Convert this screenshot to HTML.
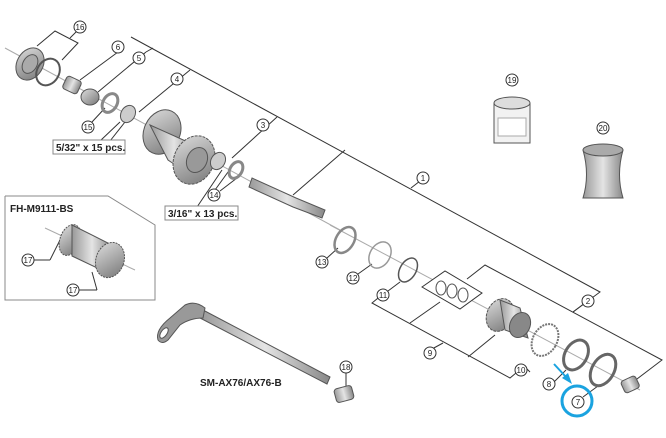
<!DOCTYPE html>
<html><head><style>body{margin:0;background:#fff}svg{display:block}text{font-family:"Liberation Sans",sans-serif}</style></head><body>
<svg width="666" height="438" viewBox="0 0 666 438" xmlns="http://www.w3.org/2000/svg">
<defs>
<linearGradient id="g" x1="0" y1="0" x2="1" y2="1"><stop offset="0" stop-color="#ddd"/><stop offset="1" stop-color="#777"/></linearGradient>
<linearGradient id="g2" x1="0" x2="1"><stop offset="0" stop-color="#999"/><stop offset=".5" stop-color="#e4e4e4"/><stop offset="1" stop-color="#888"/></linearGradient>
</defs>
<g stroke="#333" stroke-width="1" fill="none">
<line x1="5" y1="48" x2="340" y2="230" stroke="#aaa"/>
<line x1="330" y1="225" x2="640" y2="390" stroke="#aaa"/>
<polyline points="37,46 55,31 78,43 62,60"/><line x1="70" y1="38" x2="76" y2="32"/>
<polyline points="80,80 118,52"/><polyline points="98,92 146,52"/><polyline points="139,112 190,70"/>
<polyline points="131,37 600,292 573,312"/>
<line x1="153" y1="48" x2="146" y2="52"/>
<line x1="232" y1="158" x2="277" y2="117"/>
<line x1="293" y1="195" x2="345" y2="150"/>
<line x1="411" y1="188" x2="420" y2="181"/>
<line x1="228" y1="172" x2="215" y2="190"/><line x1="222" y1="170" x2="195" y2="210"/>
<line x1="125" y1="122" x2="110" y2="141"/><line x1="120" y1="122" x2="100" y2="141"/>
<line x1="105" y1="108" x2="92" y2="122"/>
<line x1="237" y1="178" x2="220" y2="191"/>
<line x1="338" y1="248" x2="327" y2="258"/>
<line x1="372" y1="264" x2="358" y2="274"/>
<line x1="400" y1="282" x2="388" y2="291"/>
<!-- 9 bracket -->
<polyline points="383,294 372,303 510,378 522,368"/>
<line x1="410" y1="323" x2="440" y2="302"/>
<line x1="468" y1="357" x2="495" y2="335"/>
<line x1="432" y1="349" x2="443" y2="343"/>
<!-- 2 bracket -->
<polyline points="467,279 485,265 662,360 633,382"/>
<line x1="573" y1="312" x2="585" y2="303"/>
<line x1="525" y1="367" x2="530" y2="372"/>
<line x1="554" y1="382" x2="566" y2="370"/>
<line x1="583" y1="397" x2="598" y2="386"/>
<line x1="346" y1="373" x2="346" y2="387"/>
<line x1="34" y1="260" x2="50" y2="260"/><line x1="79" y1="290" x2="97" y2="290"/>
<line x1="50" y1="260" x2="60" y2="240"/><line x1="97" y1="290" x2="92" y2="272"/>
</g>
<g stroke="#555" stroke-width="1">
<ellipse cx="30" cy="64" rx="13" ry="17" transform="rotate(30 30 64)" fill="url(#g)"/>
<ellipse cx="30" cy="64" rx="7" ry="10" transform="rotate(30 30 64)" fill="#aaa"/>
<ellipse cx="48" cy="72" rx="11" ry="14" transform="rotate(30 48 72)" fill="none" stroke-width="2"/>
<rect x="64" y="78" width="16" height="14" rx="3" transform="rotate(25 72 85)" fill="url(#g2)"/>
<ellipse cx="90" cy="97" rx="9" ry="8" fill="url(#g)"/>
<ellipse cx="110" cy="103" rx="7" ry="10" transform="rotate(30 110 103)" fill="none" stroke-width="3" stroke="#888"/>
<ellipse cx="128" cy="114" rx="7" ry="9" transform="rotate(30 128 114)" fill="#ccc"/>
<ellipse cx="162" cy="132" rx="18" ry="23" transform="rotate(25 162 132)" fill="url(#g)"/>
<path d="M150,125 L190,143 L198,180 L168,160 Z" fill="url(#g2)"/>
<ellipse cx="194" cy="160" rx="20" ry="25" transform="rotate(25 194 160)" fill="url(#g)" stroke-dasharray="3 1"/>
<ellipse cx="197" cy="160" rx="10" ry="13" transform="rotate(25 197 160)" fill="#999"/>
<ellipse cx="218" cy="161" rx="7" ry="9" transform="rotate(30 218 161)" fill="#ccc"/>
<ellipse cx="236" cy="170" rx="6" ry="9" transform="rotate(30 236 170)" fill="none" stroke-width="3" stroke="#888"/>
<path d="M252,178 L296,198 L325,210 L322,218 L293,207 L249,187 Z" fill="url(#g2)"/>
<ellipse cx="345" cy="240" rx="9" ry="14" transform="rotate(30 345 240)" fill="none" stroke-width="2.5" stroke="#888"/>
<ellipse cx="380" cy="255" rx="10" ry="14" transform="rotate(30 380 255)" fill="none" stroke-width="1.5" stroke="#999"/>
<ellipse cx="408" cy="270" rx="8" ry="13" transform="rotate(30 408 270)" fill="none" stroke-width="1.5"/>
<polygon points="422,287 445,271 482,293 460,309" fill="#fff" stroke="#333"/>
<ellipse cx="441" cy="288" rx="5" ry="7" fill="none"/><ellipse cx="452" cy="291" rx="5" ry="7" fill="none"/><ellipse cx="463" cy="295" rx="5" ry="7" fill="none"/>
<ellipse cx="500" cy="315" rx="13" ry="17" transform="rotate(25 500 315)" fill="url(#g)" stroke-dasharray="3 1"/>
<path d="M500,300 L520,308 L528,338 L505,330 Z" fill="url(#g2)"/>
<ellipse cx="520" cy="325" rx="10" ry="13" transform="rotate(25 520 325)" fill="#888"/>
<ellipse cx="545" cy="340" rx="12" ry="17" transform="rotate(30 545 340)" fill="none" stroke-width="2" stroke="#777" stroke-dasharray="2 1"/>
<ellipse cx="576" cy="355" rx="11" ry="16" transform="rotate(30 576 355)" fill="none" stroke-width="3" stroke="#666"/>
<ellipse cx="603" cy="370" rx="11" ry="17" transform="rotate(30 603 370)" fill="none" stroke-width="3" stroke="#666"/>
<rect x="622" y="378" width="16" height="13" rx="3" transform="rotate(-25 630 384)" fill="url(#g2)"/>
<rect x="494" y="103" width="36" height="40" fill="#f2f2f2"/>
<ellipse cx="512" cy="103" rx="18" ry="6" fill="#ddd"/>
<rect x="498" y="118" width="28" height="18" fill="#fff" stroke="#aaa"/>
<path d="M583,150 Q590,175 583,198 L623,198 Q616,175 623,150 Z" fill="url(#g2)"/>
<ellipse cx="603" cy="150" rx="20" ry="6" fill="#aaa"/>
<!-- skewer -->
<path d="M203,310 L330,377 L327,384 L200,318 Z" fill="url(#g2)"/>
<path d="M158,340 Q155,330 170,318 L185,305 Q195,300 205,308 L203,318 Q190,318 180,325 L168,340 Q162,345 158,340 Z" fill="#999"/>
<ellipse cx="164" cy="333" rx="3" ry="6" transform="rotate(35 164 333)" fill="#fff"/>
<rect x="335" y="387" width="18" height="14" rx="3" transform="rotate(-15 344 394)" fill="url(#g2)"/>
<!-- FH hub -->
<line x1="45" y1="228" x2="135" y2="270" stroke="#aaa"/>
<ellipse cx="70" cy="240" rx="10" ry="16" transform="rotate(20 70 240)" fill="url(#g)" stroke-dasharray="2 1"/>
<path d="M72,225 L112,245 L112,275 L72,256 Z" fill="url(#g2)"/>
<ellipse cx="110" cy="260" rx="14" ry="18" transform="rotate(20 110 260)" fill="url(#g)" stroke-dasharray="2 1"/>
</g>
<polyline points="5,196 108,196 155,225 155,300 5,300 5,196" fill="none" stroke="#888"/>
<g fill="#fff" stroke="#888">
<rect x="53" y="140" width="72" height="14"/>
<rect x="165" y="206" width="73" height="14"/>
</g>
<g font-size="10" font-weight="bold" fill="#222">
<text x="56" y="151">5/32" x 15 pcs.</text>
<text x="168" y="217">3/16" x 13 pcs.</text>
<text x="10" y="212">FH-M9111-BS</text>
<text x="200" y="386">SM-AX76/AX76-B</text>
</g>
<g font-size="8" text-anchor="middle" fill="#222">
<g fill="#fff" stroke="#333">
<circle cx="80" cy="27" r="6"/><circle cx="118" cy="47" r="6"/><circle cx="139" cy="58" r="6"/><circle cx="177" cy="79" r="6"/>
<circle cx="88" cy="127" r="6"/><circle cx="263" cy="125" r="6"/><circle cx="214" cy="195" r="6"/>
<circle cx="423" cy="178" r="6"/><circle cx="512" cy="80" r="6"/><circle cx="603" cy="128" r="6"/>
<circle cx="322" cy="262" r="6"/><circle cx="353" cy="278" r="6"/><circle cx="383" cy="295" r="6"/>
<circle cx="588" cy="301" r="6"/><circle cx="430" cy="353" r="6"/><circle cx="521" cy="370" r="6"/>
<circle cx="549" cy="384" r="6"/><circle cx="578" cy="402" r="6"/><circle cx="346" cy="367" r="6"/>
<circle cx="28" cy="260" r="6"/><circle cx="73" cy="290" r="6"/>
</g>
<text x="80" y="30">16</text><text x="118" y="50">6</text><text x="139" y="61">5</text><text x="177" y="82">4</text>
<text x="88" y="130">15</text><text x="263" y="128">3</text><text x="214" y="198">14</text>
<text x="423" y="181">1</text><text x="512" y="83">19</text><text x="603" y="131">20</text>
<text x="322" y="265">13</text><text x="353" y="281">12</text><text x="383" y="298">11</text>
<text x="588" y="304">2</text><text x="430" y="356">9</text><text x="521" y="373">10</text>
<text x="549" y="387">8</text><text x="578" y="405">7</text><text x="346" y="370">18</text>
<text x="28" y="263">17</text><text x="73" y="293">17</text>
</g>
<circle cx="577" cy="401" r="15" fill="none" stroke="#1aa3e0" stroke-width="3"/>
<line x1="554" y1="364" x2="566" y2="377" stroke="#1aa3e0" stroke-width="2"/>
<polygon points="562,378 572,384 568,373" fill="#1aa3e0"/>
</svg>
</body></html>
